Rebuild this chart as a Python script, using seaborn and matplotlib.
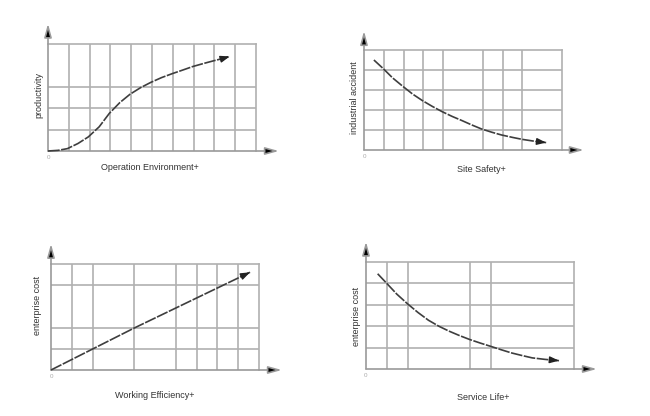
import numpy as np
import matplotlib
matplotlib.use('Agg')
import matplotlib.pyplot as plt
import seaborn as sns
import pandas as pd

sns.set_style('white')
plt.rcParams['font.family'] = ['Liberation Sans', 'DejaVu Sans']

# curve data (grid units: x 0..10, y 0..5)
env_x = [0, 0.48, 0.93, 1.44, 1.94, 2.46, 2.95, 3.45, 3.94, 4.45, 4.95, 5.46, 5.96, 6.47, 6.97, 7.48, 7.98, 8.43, 8.74]
env_y = [0, 0.03, 0.11, 0.35, 0.66, 1.13, 1.76, 2.26, 2.65, 2.96, 3.21, 3.43, 3.61, 3.78, 3.95, 4.09, 4.22, 4.33, 4.42]

safety_x = [0.5, 0.96, 1.45, 1.94, 2.45, 2.95, 3.45, 3.94, 4.45, 4.95, 5.45, 5.94, 6.45, 6.95, 7.5, 8.0, 8.6, 9.2]
safety_y = [4.5, 4.08, 3.6, 3.2, 2.8, 2.47, 2.18, 1.92, 1.68, 1.47, 1.25, 1.05, 0.89, 0.75, 0.63, 0.53, 0.44, 0.37]

eff_x = [0, 3.96, 9.57]
eff_y = [0, 1.96, 4.61]

life_x = [0.56, 0.97, 1.48, 1.98, 2.5, 3.0, 3.5, 3.99, 4.5, 4.98, 5.5, 5.99, 6.5, 7.0, 7.5, 7.99, 8.6, 9.28]
life_y = [4.45, 4.03, 3.5, 3.06, 2.64, 2.28, 2.0, 1.77, 1.56, 1.38, 1.21, 1.06, 0.9, 0.75, 0.63, 0.52, 0.45, 0.39]

x_labels = ['Operation Environment+', 'Site Safety+', 'Working Efficiency+', 'Service Life+']
y_labels = ['productivity', 'industrial accident', 'enterprise cost', 'enterprise cost']

# grid lines that are drawn in each panel
grid_x = [[1, 2, 3, 4, 5, 6, 7, 8, 9],
          [1, 2, 3, 4, 6, 7, 8],
          [1, 2, 4, 6, 7, 8, 9],
          [1, 2, 5, 6]]
grid_y = [[1, 2, 3],
          [1, 2, 3, 4],
          [1, 2, 4],
          [1, 2, 3, 4]]

curves = [(env_x, env_y), (safety_x, safety_y), (eff_x, eff_y), (life_x, life_y)]

# panel boxes in pixels: left, right, top, bottom
boxes = [(48, 256, 44, 151), (364, 562, 50, 150), (51, 259, 264, 370), (366, 574, 262, 369)]
# label centres in pixels
xlab_pos = [(150, 168), (481, 169), (155, 395), (483, 397)]
ylab_pos = [(39, 95), (354, 98), (38, 305), (357, 316)]
W, H = 650, 416
grid_col = '#b0b0b0'
axis_col = '#9a9a9a'

fig = plt.figure(figsize=(6.5, 4.16), dpi=100)
for i, (l, r, t, b) in enumerate(boxes):
    ax = fig.add_axes([l / W, 1 - b / H, (r - l) / W, (b - t) / H])
    ax.set_xlim(0, 10)
    ax.set_ylim(0, 5)
    ax.set_xticks(grid_x[i])
    ax.set_yticks(grid_y[i])
    ax.set_xticklabels([])
    ax.set_yticklabels([])
    ax.tick_params(length=0)
    ax.grid(True, color=grid_col, linewidth=1.2)
    for s in ['top', 'right']:
        ax.spines[s].set_color(grid_col)
        ax.spines[s].set_linewidth(1.2)
    for s in ['left', 'bottom']:
        ax.spines[s].set_visible(False)

    cx, cy = curves[i]
    df = pd.DataFrame({'x': cx, 'y': cy})
    sns.lineplot(data=df, x='x', y='y', ax=ax, color='#3e3e3e', linewidth=1.2,
                 linestyle=(0, (7, 0.9)), sort=False, estimator=None, clip_on=False, zorder=6)
    # arrow head at the end of the curve, pointing along the last segment
    dx, dy = cx[-1] - cx[-2], cy[-1] - cy[-2]
    k = 0.35 / np.hypot(dx, dy)
    ax.annotate('', xy=(cx[-1], cy[-1]), xytext=(cx[-1] - k * dx, cy[-1] - k * dy),
                arrowprops=dict(arrowstyle='-|>,head_length=0.55,head_width=0.2', color='#222222',
                                lw=1.0, shrinkA=0, shrinkB=0), zorder=7)

    # axis arrows
    ax.annotate('', xy=(1.11, 0), xytext=(0, 0), xycoords='axes fraction',
                arrowprops=dict(arrowstyle='-|>,head_length=0.8,head_width=0.22', edgecolor=axis_col,
                                facecolor='black', lw=1.2, shrinkA=0, shrinkB=0), annotation_clip=False)
    ax.annotate('', xy=(0, 1.19), xytext=(0, 0), xycoords='axes fraction',
                arrowprops=dict(arrowstyle='-|>,head_length=0.8,head_width=0.22', edgecolor=axis_col,
                                facecolor='black', lw=1.2, shrinkA=0, shrinkB=0), annotation_clip=False)
    ax.text(0, -0.04, '0', transform=ax.transAxes, fontsize=4.5, color='#aaaaaa', ha='center', va='top')

    ax.set_xlabel(x_labels[i], fontsize=6.5, color='#333333', va='center')
    ax.set_ylabel(y_labels[i], fontsize=6.5, color='#333333', va='center')
    xp, yp = xlab_pos[i]
    ax.xaxis.set_label_coords((xp - l) / (r - l), (b - yp) / (b - t))
    xp, yp = ylab_pos[i]
    ax.yaxis.set_label_coords((xp - l) / (r - l), (b - yp) / (b - t))

fig.savefig('out.png', dpi=100)
